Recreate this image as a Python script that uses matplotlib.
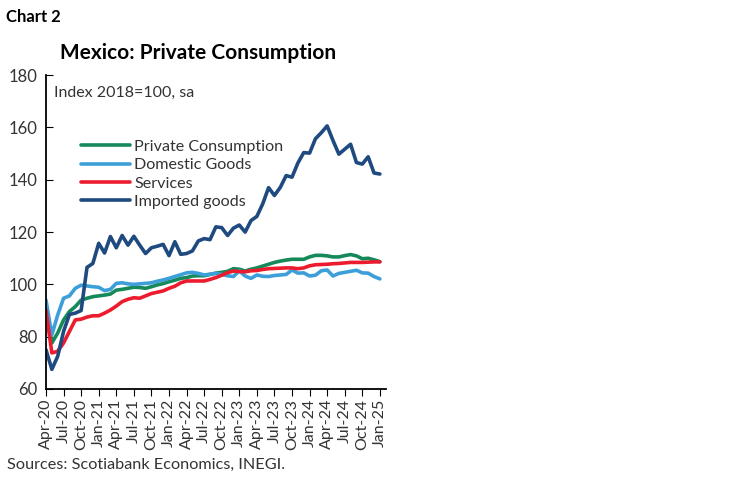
import numpy as np
import matplotlib
matplotlib.use('Agg')
import matplotlib.pyplot as plt

plt.rcParams['font.family'] = ['Lato', 'DejaVu Sans']

# Meses: abr-20 a ene-25
months = ['Apr-20', 'May-20', 'Jun-20', 'Jul-20', 'Aug-20', 'Sep-20', 'Oct-20', 'Nov-20', 'Dec-20',
          'Jan-21', 'Feb-21', 'Mar-21', 'Apr-21', 'May-21', 'Jun-21', 'Jul-21', 'Aug-21', 'Sep-21',
          'Oct-21', 'Nov-21', 'Dec-21', 'Jan-22', 'Feb-22', 'Mar-22', 'Apr-22', 'May-22', 'Jun-22',
          'Jul-22', 'Aug-22', 'Sep-22', 'Oct-22', 'Nov-22', 'Dec-22', 'Jan-23', 'Feb-23', 'Mar-23',
          'Apr-23', 'May-23', 'Jun-23', 'Jul-23', 'Aug-23', 'Sep-23', 'Oct-23', 'Nov-23', 'Dec-23',
          'Jan-24', 'Feb-24', 'Mar-24', 'Apr-24', 'May-24', 'Jun-24', 'Jul-24', 'Aug-24', 'Sep-24',
          'Oct-24', 'Nov-24', 'Dec-24', 'Jan-25']

private_consumption = [90.5, 77.6, 81.4, 86.4, 89.6, 91.5, 94.0, 94.7, 95.3, 95.6, 95.9, 96.3,
                       97.8, 98.1, 98.5, 98.9, 98.8, 98.5, 99.1, 99.8, 100.3, 101.0, 101.6, 102.3,
                       102.6, 103.2, 103.3, 103.3, 103.8, 104.3, 104.6, 105.0, 106.0, 105.8, 105.1,
                       105.8, 106.3, 107.0, 107.7, 108.4, 108.9, 109.3, 109.6, 109.6, 109.6, 110.5,
                       111.1, 111.1, 110.9, 110.5, 110.5, 111.0, 111.4, 110.9, 109.8, 110.0, 109.4,
                       108.7]

domestic_goods = [94.0, 80.7, 88.3, 94.7, 95.6, 98.5, 99.7, 99.4, 99.1, 98.9, 97.6, 98.1,
                  100.4, 100.6, 100.2, 100.0, 100.2, 100.4, 100.6, 101.2, 101.7, 102.3, 103.0, 103.7,
                  104.4, 104.6, 104.2, 103.6, 103.9, 104.2, 103.8, 103.3, 103.0, 105.2, 103.2,
                  102.3, 103.6, 103.1, 103.0, 103.4, 103.6, 103.8, 105.5, 104.3, 104.4, 103.2,
                  103.5, 105.2, 105.5, 103.2, 104.2, 104.6, 105.0, 105.4, 104.4, 104.3, 103.0,
                  102.1]

services = [90.0, 73.8, 74.4, 77.6, 82.0, 86.4, 86.7, 87.5, 88.0, 88.0, 89.0, 90.2,
            91.7, 93.4, 94.3, 94.9, 94.7, 95.6, 96.5, 97.0, 97.5, 98.5, 99.3, 100.6,
            101.3, 101.3, 101.3, 101.3, 101.9, 102.6, 103.5, 104.5, 105.1, 104.9, 104.8,
            105.2, 105.3, 105.7, 106.0, 106.1, 106.2, 106.3, 106.3, 106.0, 106.3, 107.1,
            107.5, 107.6, 107.7, 107.9, 108.0, 108.2, 108.4, 108.4, 108.4, 108.5, 108.6,
            108.6]

imported_goods = [75.0, 67.5, 72.5, 82.0, 88.5, 89.0, 90.0, 106.5, 108.0, 115.7, 112.0, 118.3,
                  114.0, 118.7, 115.0, 118.4, 115.0, 111.8, 114.0, 114.6, 115.3, 111.0, 116.3, 111.5,
                  111.8, 112.8, 116.6, 117.5, 117.1, 122.0, 121.7, 118.7, 121.5, 122.7, 120.0,
                  124.4, 126.0, 130.8, 137.0, 134.0, 137.1, 141.6, 141.0, 146.4, 150.4, 150.2,
                  155.7, 158.0, 160.6, 155.0, 149.8, 151.7, 153.6, 146.6, 146.0, 148.8, 142.6,
                  142.2]

series = [('Private Consumption', private_consumption, '#16895a'),
          ('Domestic Goods', domestic_goods, '#3d9fd9'),
          ('Services', services, '#ec1c2e'),
          ('Imported goods', imported_goods, '#1e4a80')]

x = np.arange(len(months))

fig = plt.figure(figsize=(7.49, 4.82), dpi=100)
ax = fig.add_axes([0.0614, 0.193, 0.4536, 0.651])

for name, values, color in series:
    ax.plot(x, values, color=color, linewidth=2.6, label=name, solid_capstyle='round')

ax.set_xlim(0, 58)
ax.set_ylim(60, 180)
ax.set_yticks(range(60, 181, 20))
ax.set_xticks(x[::3])
ax.set_xticklabels(months[::3], rotation=90, fontsize=11.5, color='#333333')
ax.tick_params(axis='y', direction='in', length=5, labelsize=12, labelcolor='#333333', pad=6)
ax.tick_params(axis='x', direction='out', length=5, pad=2)

for side in ['top', 'right']:
    ax.spines[side].set_visible(False)
ax.spines['left'].set_linewidth(1.3)
ax.spines['bottom'].set_linewidth(1.3)

ax.text(0.025, 0.965, 'Index 2018=100, sa', transform=ax.transAxes, fontsize=11.5,
        color='#333333', va='top', ha='left')

ax.legend(loc='upper left', bbox_to_anchor=(0.085, 0.815), frameon=False, fontsize=11.6,
          handlelength=3.0, handletextpad=0.3, labelspacing=0.25, borderaxespad=0,
          labelcolor='#333333')

fig.text(0.008, 0.965, 'Chart 2', fontsize=12, fontweight='bold', va='center', ha='left')
fig.text(0.08, 0.89, 'Mexico: Private Consumption', fontsize=15, fontweight='bold',
         va='center', ha='left')
fig.text(0.01, 0.035, 'Sources: Scotiabank Economics, INEGI.', fontsize=11.7,
         color='#333333', va='center', ha='left')

fig.savefig('out.png', dpi=100)
